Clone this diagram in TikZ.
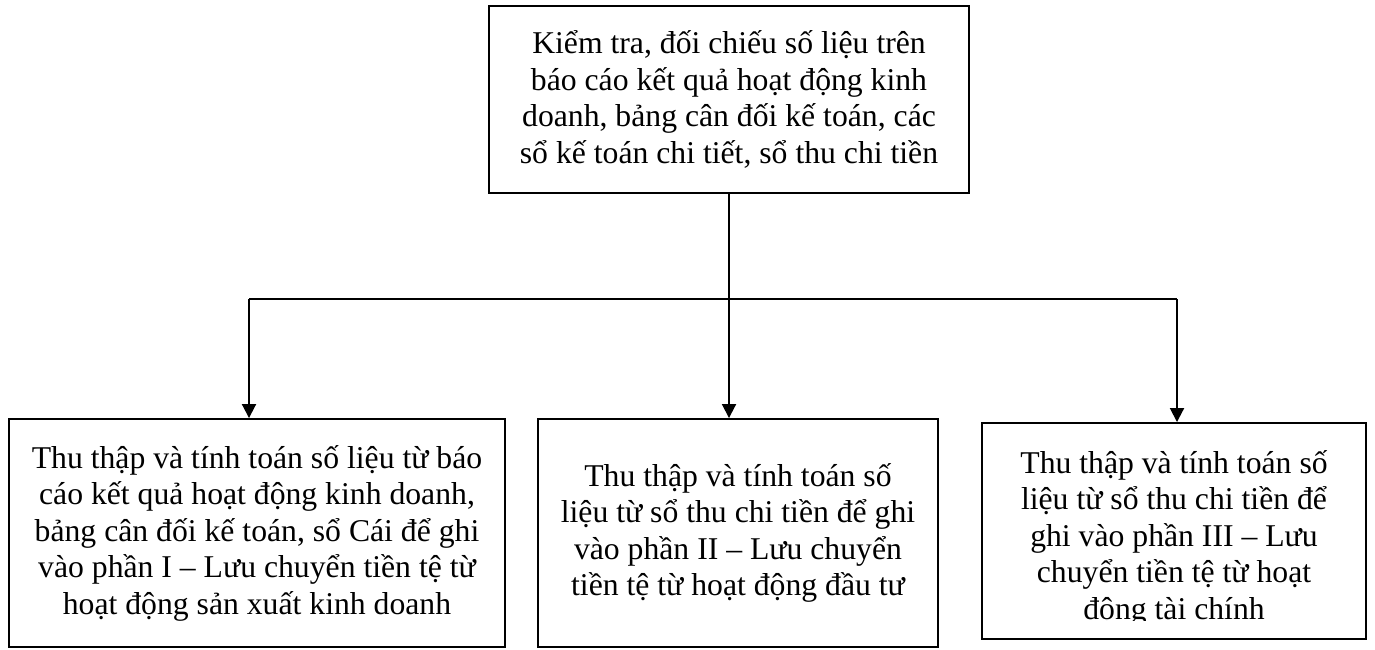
\documentclass[tikz,border=0pt]{standalone}
\usepackage{fontspec}
\setmainfont{Liberation Serif}
\usetikzlibrary{arrows.meta}
\begin{document}
\begin{tikzpicture}[x=1pt,y=-1pt,
  box/.style={draw,line width=1.9pt,rectangle,inner sep=0pt,align=center,font=\fontsize{31.7}{36.5}\selectfont},
  txt/.style={inner sep=0pt,align=center,font=\fontsize{31.7}{36.5}\selectfont},
  link/.style={line width=1.9pt},
  arr/.style={link,-{Triangle[width=14pt,length=14pt]}}]
\useasboundingbox (0,0) rectangle (1375,650);
\node[box,minimum width=480pt,minimum height=187pt] (top) at (729,99.5)
  {Kiểm tra, đối chiếu số liệu trên\\ báo cáo kết quả hoạt động kinh\\ doanh, bảng cân đối kế toán, các\\ sổ kế toán chi tiết, sổ thu chi tiền};
\node[box,minimum width=496pt,minimum height=228pt] (left) at (257,533)
  {Thu thập và tính toán số liệu từ báo\\ cáo kết quả hoạt động kinh doanh,\\ bảng cân đối kế toán, sổ Cái để ghi\\ vào phần I – Lưu chuyển tiền tệ từ\\ hoạt động sản xuất kinh doanh};
\node[box,minimum width=400pt,minimum height=228pt] (mid) at (738,533)
  {Thu thập và tính toán số\\ liệu từ sổ thu chi tiền để ghi\\ vào phần II – Lưu chuyển\\ tiền tệ từ hoạt động đầu tư};
\node[box,minimum width=384pt,minimum height=216pt] (right) at (1174,531) {};
\begin{scope}
  \clip (right.north west) rectangle (1366,620);
  \node[txt] (righttext) at (1174,538)
    {Thu thập và tính toán số\\ liệu từ sổ thu chi tiền để\\ ghi vào phần III – Lưu\\ chuyển tiền tệ từ hoạt\\ động tài chính};
\end{scope}
\coordinate (j) at (729,299);
\coordinate (jl) at (249,299);
\coordinate (jr) at (1177,299);
\draw[link] (top.south) -- (j);
\draw[link] (jl) -- (jr);
\draw[arr] (jl) -- (jl |- left.north);
\draw[arr] (j) -- (j |- mid.north);
\draw[arr] (jr) -- (jr |- right.north);
\end{tikzpicture}
\end{document}
